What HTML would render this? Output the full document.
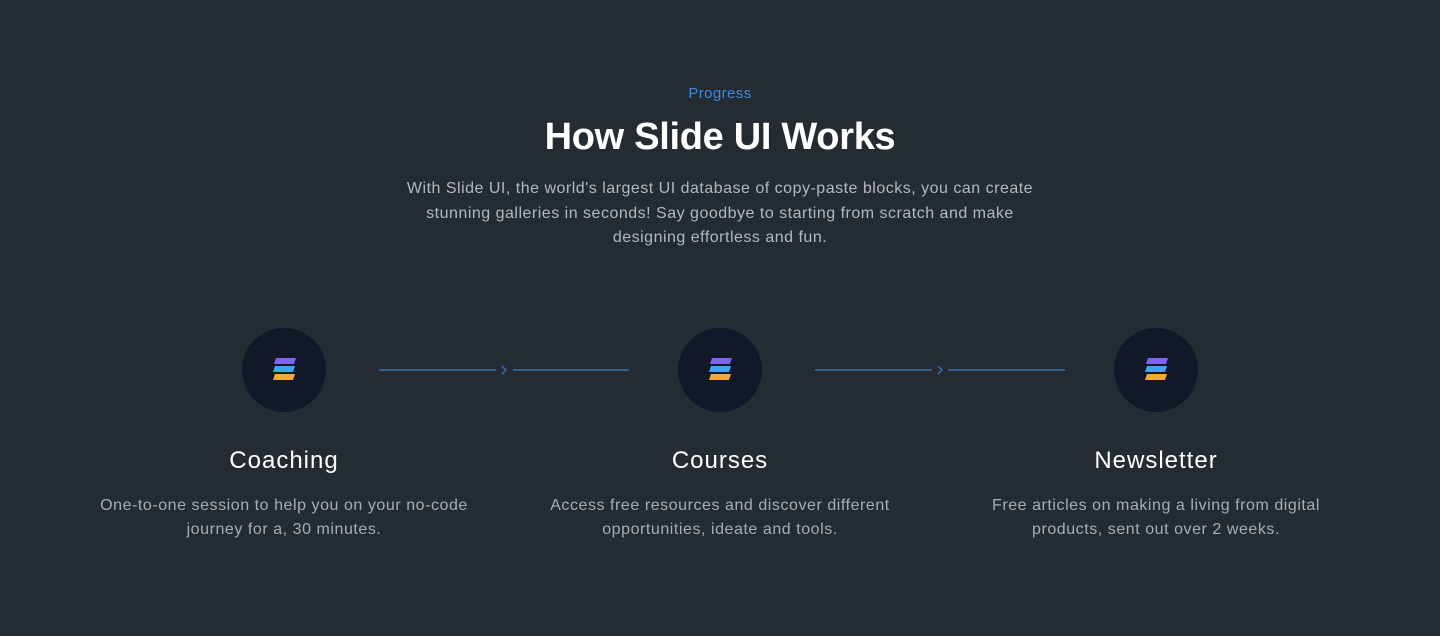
<!DOCTYPE html>
<html><head><meta charset="utf-8"><style>
body{margin:0;width:1440px;height:636px;background:#252b33;font-family:"Liberation Sans",sans-serif;position:relative;overflow:hidden}
.t{position:absolute;left:0;width:1440px;text-align:center}
.c{position:absolute;width:84px;height:84px;border-radius:50%;background:#111827;top:328px}
.c svg{position:absolute;left:31px;top:30px}
.h{position:absolute;width:440px;text-align:center;color:#fff;font-size:24px;top:447px;letter-spacing:1px}
.p{position:absolute;width:440px;text-align:center;color:#a7adb6;font-size:16px;line-height:24px;top:494px;letter-spacing:0.55px}
</style></head><body>
<div class="t" style="top:85px;color:#3b8be0;font-size:15px;letter-spacing:0.4px">Progress</div>
<div class="t" style="top:116px;color:#fff;font-size:38px;font-weight:bold;letter-spacing:-0.3px">How Slide UI Works</div>
<div class="t" style="top:177px;color:#b4b9c1;font-size:16px;line-height:24.5px;letter-spacing:0.5px">With Slide UI, the world's largest UI database of copy-paste blocks, you can create<br>stunning galleries in seconds! Say goodbye to starting from scratch and make<br>designing effortless and fun.</div>
<svg width="1440" height="636" style="position:absolute;left:0;top:0">
<g stroke="#3b6ea8" stroke-width="1.5" fill="none">
<line x1="379" y1="370" x2="496" y2="370"/><line x1="513" y1="370" x2="629" y2="370"/>
<polyline points="502,366 506,370 502,374"/>
<line x1="815" y1="370" x2="932" y2="370"/><line x1="948" y1="370" x2="1065" y2="370"/>
<polyline points="938,366 942,370 938,374"/>
</g></svg>
<div class="c" style="left:242px"><svg width="24" height="24"><polygon points="3,0 23,0 21,6 1,6" fill="#8064f0"/><polygon points="2,8 22,8 20,14 0,14" fill="#3ba4f4"/><polygon points="2,16 22,16 20,22 0,22" fill="#f5a83c"/></svg></div>
<div class="c" style="left:678px"><svg width="24" height="24"><polygon points="3,0 23,0 21,6 1,6" fill="#8064f0"/><polygon points="2,8 22,8 20,14 0,14" fill="#3ba4f4"/><polygon points="2,16 22,16 20,22 0,22" fill="#f5a83c"/></svg></div>
<div class="c" style="left:1114px"><svg width="24" height="24"><polygon points="3,0 23,0 21,6 1,6" fill="#8064f0"/><polygon points="2,8 22,8 20,14 0,14" fill="#3ba4f4"/><polygon points="2,16 22,16 20,22 0,22" fill="#f5a83c"/></svg></div>
<div class="h" style="left:64px">Coaching</div>
<div class="h" style="left:500px">Courses</div>
<div class="h" style="left:936px">Newsletter</div>
<div class="p" style="left:64px">One-to-one session to help you on your no-code<br>journey for a, 30 minutes.</div>
<div class="p" style="left:500px">Access free resources and discover different<br>opportunities, ideate and tools.</div>
<div class="p" style="left:936px">Free articles on making a living from digital<br>products, sent out over 2 weeks.</div>
</body></html>
